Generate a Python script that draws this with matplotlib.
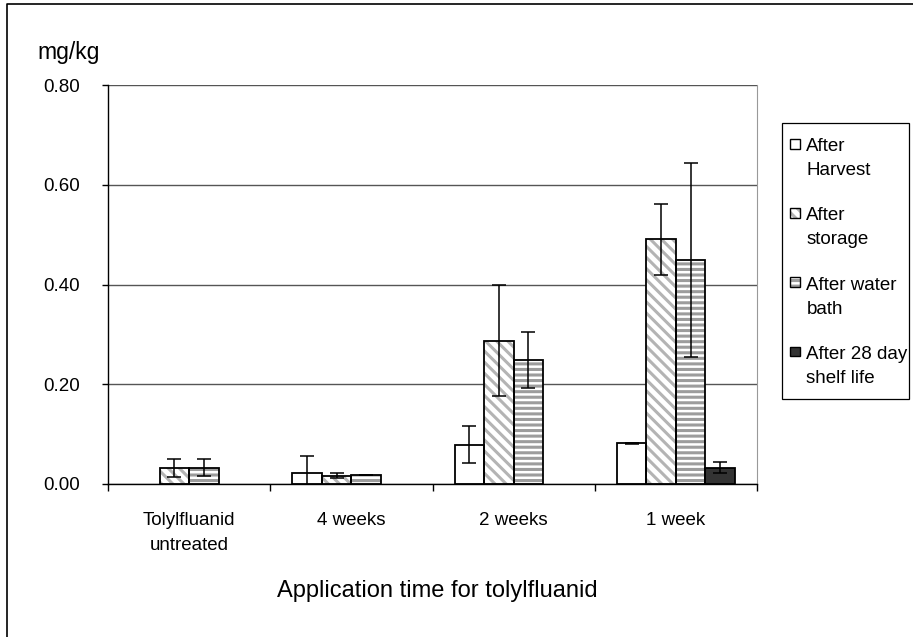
import matplotlib
matplotlib.use('Agg')
import matplotlib.pyplot as plt
import numpy as np
from matplotlib.patches import Rectangle
from matplotlib.lines import Line2D

plt.rcParams['font.family'] = ['Liberation Sans', 'DejaVu Sans']
plt.rcParams['hatch.linewidth'] = 2.2

categories = ['Tolylfluanid\nuntreated', '4 weeks', '2 weeks', '1 week']
series = ['After\nHarvest', 'After\nstorage', 'After water\nbath', 'After 28 day\nshelf life']

harvest = [np.nan, 0.023, 0.079, 0.082]
harvest_err = [np.nan, 0.033, 0.037, 0.001]
storage = [0.032, 0.017, 0.287, 0.491]
storage_err = [0.018, 0.005, 0.111, 0.071]
water = [0.033, 0.019, 0.249, 0.449]
water_err = [0.017, 0.0, 0.056, 0.195]
shelf = [np.nan, np.nan, np.nan, 0.033]
shelf_err = [np.nan, np.nan, np.nan, 0.011]

values = [harvest, storage, water, shelf]
errors = [harvest_err, storage_err, water_err, shelf_err]
# face colour, hatch, hatch colour
styles = [('white', None, 'none'),
          ('white', '\\\\\\', '#b4b4b4'),
          ('white', '---', '#9c9c9c'),
          ('#333333', None, 'none')]


class TopSquare:
    # legend marker drawn next to the first line of a two-line label
    def __init__(self, face, hatch, hc):
        self.face, self.hatch, self.hc = face, hatch, hc

    def legend_artist(self, legend, orig_handle, fontsize, handlebox):
        s = handlebox.width
        y0 = 0.88 * fontsize
        back = Rectangle((0, y0), s, s, facecolor=self.face, edgecolor=self.hc,
                         linewidth=0, hatch=self.hatch, transform=handlebox.get_transform())
        line = Rectangle((0, y0), s, s, fill=False, edgecolor='black',
                         linewidth=1.0, transform=handlebox.get_transform())
        handlebox.add_artist(back)
        handlebox.add_artist(line)
        return line


W, H = 913, 637
fig = plt.figure(figsize=(W / 100, H / 100), dpi=100)
ax = fig.add_axes([108 / W, 1 - 484 / H, 649 / W, 399 / H])

x = np.arange(len(categories))
width = 0.182
offsets = (np.arange(4) - 1.5) * width

outlines = []
for vals, errs, off, (face, hatch, hc) in zip(values, errors, offsets, styles):
    vals = np.array(vals)
    ok = ~np.isnan(vals)
    ax.bar(x[ok] + off, vals[ok], width, color=face, edgecolor=hc, linewidth=0,
           hatch=hatch, zorder=2)
    bc = ax.bar(x[ok] + off, vals[ok], width, fill=False, edgecolor='black',
                linewidth=1.3, zorder=3)
    outlines.append(bc)
    ax.errorbar(x[ok] + off, vals[ok], yerr=np.array(errs)[ok], fmt='none',
                ecolor='black', elinewidth=1.1, capsize=5, capthick=1.1, zorder=4)

ax.set_xlim(-0.5, 3.5)
ax.set_ylim(0, 0.8)
ax.set_yticks(np.arange(0, 0.81, 0.2))
ax.set_yticklabels(['%.2f' % v for v in np.arange(0, 0.81, 0.2)])
ax.yaxis.grid(True, color='#555555', linewidth=1)
ax.set_axisbelow(True)

ax.set_xticks(np.arange(-0.5, 4, 1))
ax.set_xticklabels([])
ax.set_xticks(x, minor=True)
ax.set_xticklabels(categories, minor=True)
ax.tick_params(axis='x', which='major', direction='out', length=5, width=1)
ax.tick_params(axis='x', which='minor', length=0, pad=20, labelsize=13.5)
ax.tick_params(axis='y', direction='out', length=4, width=1, pad=16, labelsize=13.5)
for lbl in ax.get_xticklabels(minor=True):
    lbl.set_linespacing(1.6)
    lbl.set_va('top')

ax.spines['top'].set_visible(False)
ax.spines['right'].set_color('#999999')
ax.spines['left'].set_linewidth(1)
ax.spines['bottom'].set_linewidth(1)

fig.text(37 / W, 1 - 52 / H, 'mg/kg', fontsize=16.5, ha='left', va='center')
fig.text(437 / W, 1 - 597 / H, 'Application time for tolylfluanid', fontsize=17,
         ha='center', va='baseline')

# legend box drawn separately so the text can run close to its right edge
fig.add_artist(Rectangle((782 / W, 1 - 399 / H), 127 / W, 276 / H,
                         transform=fig.transFigure, fill=False,
                         edgecolor='black', linewidth=0.9))
handler_map = {bc: TopSquare(*st) for bc, st in zip(outlines, styles)}
leg = fig.legend(outlines, series, handler_map=handler_map, loc='upper left',
                 bbox_to_anchor=(790 / W, 1 - 138 / H), borderaxespad=0,
                 fontsize=13.5, handlelength=0.52, handleheight=0.52,
                 handletextpad=0.35, labelspacing=1.5, borderpad=0,
                 frameon=False)
for t in leg.get_texts():
    t.set_linespacing(1.55)

# outer chart border (left and top only are visible)
fig.add_artist(Line2D([7 / W, 7 / W, 1], [0, 1 - 4 / H, 1 - 4 / H],
                      transform=fig.transFigure, color='black', linewidth=1.2))

fig.savefig('out.png', dpi=100)
